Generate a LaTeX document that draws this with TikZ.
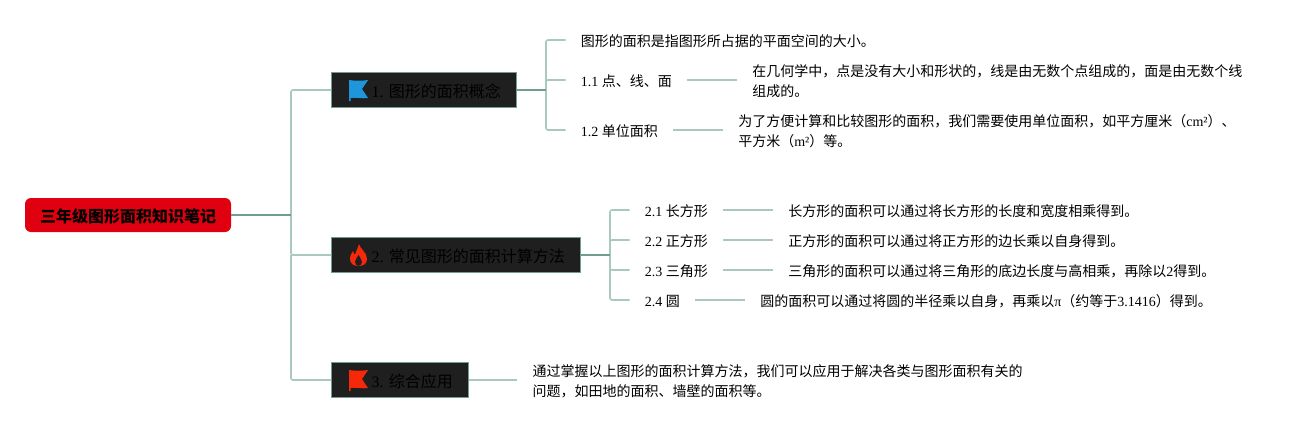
\documentclass[tikz,border=0pt]{standalone}
\usepackage{fontspec}
\usepackage{xcolor}
\setmainfont{Liberation Serif}
\newfontfamily\cjk{Noto Sans CJK SC}
\newcommand{\zh}[1]{{\cjk #1}}
\newcommand{\iconroom}{\hspace*{18.5pt}}
\usetikzlibrary{positioning}
\definecolor{rootred}{HTML}{E0000F}
\definecolor{branchdark}{HTML}{1E1F1E}
\definecolor{edgedark}{HTML}{6F9E90}
\definecolor{edgelight}{HTML}{A9C8BE}
\definecolor{flagblue}{HTML}{1E96DC}
\definecolor{flagred}{HTML}{F5280A}
\tikzset{
  rootnode/.style={fill=rootred, rounded corners=4.5pt, inner xsep=11.25pt, minimum height=25.5pt, font=\fontsize{12}{15}\selectfont\bfseries, execute at begin node={\rule{0pt}{12.1pt}}},
  branch/.style={fill=branchdark, draw=edgedark, line width=0.9pt, anchor=west, inner xsep=11.45pt, minimum height=26.25pt, font=\fontsize{12}{15}\selectfont, execute at begin node={\rule{0pt}{12.1pt}}},
  leaf/.style={anchor=west, inner xsep=11.25pt, inner ysep=1pt, align=left, font=\fontsize{10.5}{15}\selectfont, execute at begin node={\rule{0pt}{10.75pt}}},
  wrapleaf/.style={leaf, yshift=-0.75pt},
  thick edge/.style={draw=edgedark, line width=1.5pt},
  thin edge/.style={draw=edgelight, line width=1.2pt, rounded corners=1.5pt},
  flagicon/.pic={
    \fill[pic actions] (0,0) .. controls (6,1) and (13,1) .. (19,0) -- (13,9) -- (19,18) .. controls (13,19) and (7,17) .. (1.5,18) -- (1.5,21) -- (0,21) -- cycle;
  },
  flameicon/.pic={
    \fill[pic actions] (9,0) .. controls (10,5) and (17,8) .. (17,15) .. controls (17,20) and (13,22) .. (8.5,22) .. controls (4,22) and (0,20) .. (0,15) .. controls (0,11) and (2,9) .. (3,7) .. controls (3.5,9) and (4,10) .. (5,10.5) .. controls (6,7) and (8,4) .. (9,0) -- cycle;
    \fill[branchdark] (8.5,11) .. controls (9.5,14) and (12,15) .. (12,18) .. controls (12,20) and (10,22) .. (8.5,22) .. controls (7,22) and (5,20) .. (5,18) .. controls (5,15) and (7.5,14) .. (8.5,11) -- cycle;
  }
}

\begin{document}
\begin{tikzpicture}[x=0.75pt, y=-0.75pt, node distance=37.5pt]
  \useasboundingbox (0,0) rectangle (1312,430);

  \node (root) [rootnode] at (128,215) {\zh{三年级图形面积知识笔记}};
  \coordinate (trunk) at (291,215);

  \node (area) [branch] at (331,90) {\iconroom 1. \zh{图形的面积概念}};
  \node (calc) [branch] at (331,255) {\iconroom 2. \zh{常见图形的面积计算方法}};
  \node (apply) [branch] at (331,380) {\iconroom 3. \zh{综合应用}};

  \pic [fill=flagblue] at (349,80) {flagicon};
  \pic [fill=flagred] at (350,244) {flameicon};
  \pic [fill=flagred] at (349,370) {flagicon};

  \coordinate (areafork) at (546,90);
  \node (def) [leaf] at (565.5,40) {\zh{图形的面积是指图形所占据的平面空间的大小。}};
  \node (pts) [leaf] at (565.5,80) {1.1 \zh{点、线、面}};
  \node (unit) [leaf] at (565.5,130) {1.2 \zh{单位面积}};
  \node (ptstxt) [wrapleaf, right=of pts] {\zh{在几何学中，点是没有大小和形状的，线是由无数个点组成的，面是由无数个线}\\\zh{组成的。}};
  \node (unittxt) [wrapleaf, right=of unit] {\zh{为了方便计算和比较图形的面积，我们需要使用单位面积，如平方厘米（}cm²\zh{）、}\\\zh{平方米（}m²\zh{）等。}};

  \coordinate (calcfork) at (610,255);
  \node (rect) [leaf] at (629.5,210) {2.1 \zh{长方形}};
  \node (square) [leaf] at (629.5,240) {2.2 \zh{正方形}};
  \node (tri) [leaf] at (629.5,270) {2.3 \zh{三角形}};
  \node (circ) [leaf] at (629.5,300) {2.4 \zh{圆}};
  \node (recttxt) [leaf, right=of rect] {\zh{长方形的面积可以通过将长方形的长度和宽度相乘得到。}};
  \node (squaretxt) [leaf, right=of square] {\zh{正方形的面积可以通过将正方形的边长乘以自身得到。}};
  \node (tritxt) [leaf, right=of tri] {\zh{三角形的面积可以通过将三角形的底边长度与高相乘，再除以}2\zh{得到。}};
  \node (circtxt) [leaf, right=of circ] {\zh{圆的面积可以通过将圆的半径乘以自身，再乘以}π\zh{（约等于}3.1416\zh{）得到。}};

  \node (applytxt) [wrapleaf, right=36.5pt of apply] {\zh{通过掌握以上图形的面积计算方法，我们可以应用于解决各类与图形面积有关的}\\\zh{问题，如田地的面积、墙壁的面积等。}};

  \draw [thin edge] (trunk) |- (area.west);
  \draw [thin edge] (trunk) |- (calc.west);
  \draw [thin edge] (trunk |- calc.west) |- (apply.west);
  \draw [thick edge] (root.east) -- (trunk);

  \draw [thin edge] (areafork) |- (def.west);
  \draw [thin edge] (areafork) |- (pts.west);
  \draw [thin edge] (areafork) |- (unit.west);
  \draw [thick edge] (area.east) -- (areafork);
  \draw [thin edge] (pts.east) -- (pts.east -| ptstxt.west);
  \draw [thin edge] (unit.east) -- (unit.east -| unittxt.west);

  \draw [thin edge] (calcfork) |- (rect.west);
  \draw [thin edge] (calcfork) |- (square.west);
  \draw [thin edge] (calcfork) |- (tri.west);
  \draw [thin edge] (calcfork) |- (circ.west);
  \draw [thick edge] (calc.east) -- (calcfork);
  \draw [thin edge] (rect.east) -- (recttxt.west);
  \draw [thin edge] (square.east) -- (squaretxt.west);
  \draw [thin edge] (tri.east) -- (tritxt.west);
  \draw [thin edge] (circ.east) -- (circtxt.west);

  \draw [thin edge] (apply.east) -- (apply.east -| applytxt.west);
\end{tikzpicture}
\end{document}
